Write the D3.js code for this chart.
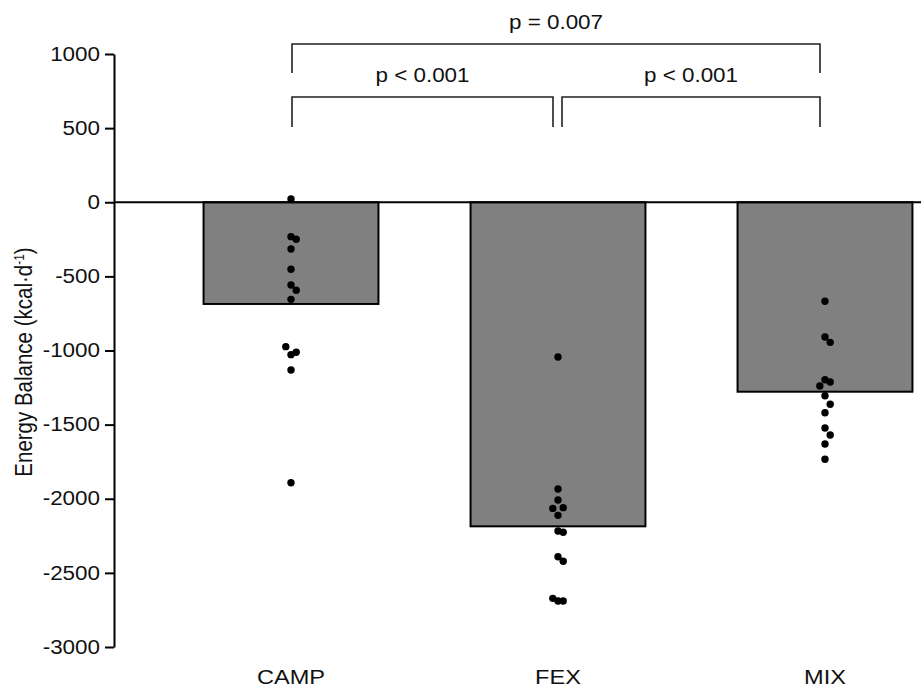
<!DOCTYPE html>
<html>
<head>
<meta charset="utf-8">
<script src="https://cdn.jsdelivr.net/npm/d3@7"></script>
<style>
  body { margin: 0; background: #fff; }
  text { font-family: Arial, "Liberation Sans", sans-serif; fill: #111; }
</style>
</head>
<body>
<div id="chart"></div>
<script>
// data
var categories = ["CAMP", "FEX", "MIX"];
var barMeans = [-686, -2186, -1278];

var campValues = [22, -232, -250, -315, -452, -558, -655, -594, -1028, -1012, -974, -1132, -1892];
var fexValues = [-1044, -1934, -2008, -2060, -2065, -2112, -2218, -2226, -2391, -2422, -2690, -2690, -2672];
var mixValues = [-668, -909, -945, -1197, -1212, -1239, -1305, -1363, -1420, -1523, -1570, -1631, -1734];

var yTicks = [1000, 500, 0, -500, -1000, -1500, -2000, -2500, -3000];

var compPairs = [["CAMP", "FEX"], ["FEX", "MIX"], ["CAMP", "MIX"]];
var compLabels = ["p < 0.001", "p < 0.001", "p = 0.007"];

var width = 921, height = 691;
var stretch = 1.15; // text in the figure is slightly wide

var svg = d3.select("#chart")
  .append("svg")
    .attr("width", width)
    .attr("height", height);

var y = d3.scaleLinear()
  .domain([-3000, 1000])
  .range([647, 54]);

var x = d3.scaleBand()
  .domain(categories)
  .range([157.5, 958.5])
  .paddingInner(0.345)
  .paddingOuter(0.1725);

var axisX = 114;

// bars
svg.append("g")
  .selectAll("rect")
  .data(categories)
  .enter().append("rect")
    .attr("x", function(d) { return x(d); })
    .attr("y", y(0))
    .attr("width", x.bandwidth())
    .attr("height", function(d, i) { return y(barMeans[i]) - y(0); })
    .attr("fill", "#808080")
    .attr("stroke", "#000")
    .attr("stroke-width", 2);

// zero line
svg.append("line")
  .attr("x1", axisX).attr("x2", width)
  .attr("y1", y(0)).attr("y2", y(0))
  .attr("stroke", "#000")
  .attr("stroke-width", 2);

// Y axis
var yAxis = svg.append("g")
  .attr("transform", "translate(" + axisX + ",0)")
  .call(d3.axisLeft(y).tickValues(yTicks).tickSize(9).tickSizeOuter(0)
    .tickFormat(function(d) { return String(d); }));
yAxis.select(".domain").attr("stroke", "#000").attr("stroke-width", 2);
yAxis.selectAll(".tick line").attr("stroke", "#000").attr("stroke-width", 2);
yAxis.selectAll(".tick text")
  .attr("x", -14 / stretch)
  .attr("transform", "scale(" + stretch + ",1)")
  .style("font-size", "19.5px")
  .style("font-family", "Arial, 'Liberation Sans', sans-serif")
  .attr("fill", "#111");

// y label
var ylab = svg.append("text")
  .attr("transform", "translate(32,362) scale(" + stretch + ",1) rotate(-90)")
  .attr("text-anchor", "middle")
  .style("font-size", "20.5px");
ylab.append("tspan").text("Energy Balance (kcal\u00b7d");
ylab.append("tspan").attr("dy", -7).style("font-size", "12px").text("-1");
ylab.append("tspan").attr("dy", 7).text(")");

// category labels
svg.append("g")
  .selectAll("text")
  .data(categories)
  .enter().append("text")
    .attr("transform", function(d) { return "translate(" + (x(d) + x.bandwidth() / 2) + ",684) scale(" + stretch + ",1)"; })
    .attr("text-anchor", "middle")
    .style("font-size", "20.5px")
    .text(function(d) { return d; });

// individual points, simple column swarm
var groups = [campValues, fexValues, mixValues];
var step = 5.2, rowGap = 9;
var dots = [];
groups.forEach(function(vals, gi) {
  var cx = x(categories[gi]) + x.bandwidth() / 2;
  var placed = [];
  vals.forEach(function(v) {
    var py = y(v);
    var order = [0, 1, -1, 2, -2, 3, -3];
    var col = 0;
    for (var k = 0; k < order.length; k++) {
      var c = order[k];
      var hit = placed.some(function(p) { return p.col === c && Math.abs(p.y - py) < rowGap; });
      if (!hit) { col = c; break; }
    }
    placed.push({col: col, y: py});
    dots.push({x: cx + col * step, y: py});
  });
});

svg.append("g")
  .selectAll("circle")
  .data(dots)
  .enter().append("circle")
    .attr("cx", function(d) { return d.x; })
    .attr("cy", function(d) { return d.y; })
    .attr("r", 3.7)
    .attr("fill", "#000");

// significance brackets
var center = function(c) { return x(c) + x.bandwidth() / 2; };
var bracketLevels = [[710, 507], [710, 507], [1067, 872]]; // top and leg end, in axis units
var bracketData = compPairs.map(function(p, i) {
  var x1 = center(p[0]) + (p[0] === "FEX" ? 4 : 1);
  var x2 = center(p[1]) - 5;
  return {x1: x1, x2: x2, top: y(bracketLevels[i][0]), bot: y(bracketLevels[i][1]), label: compLabels[i]};
});

var br = svg.append("g").selectAll("g")
  .data(bracketData)
  .enter().append("g");

br.append("path")
  .attr("d", function(d) {
    return "M" + d.x1 + "," + d.bot + "V" + d.top + "H" + d.x2 + "V" + d.bot;
  })
  .attr("fill", "none")
  .attr("stroke", "#222")
  .attr("stroke-width", 1.6);

br.append("text")
  .attr("transform", function(d) { return "translate(" + ((d.x1 + d.x2) / 2) + "," + (d.top - 15) + ") scale(" + stretch + ",1)"; })
  .attr("text-anchor", "middle")
  .style("font-size", "19.5px")
  .text(function(d) { return d.label; });
</script>
</body>
</html>
